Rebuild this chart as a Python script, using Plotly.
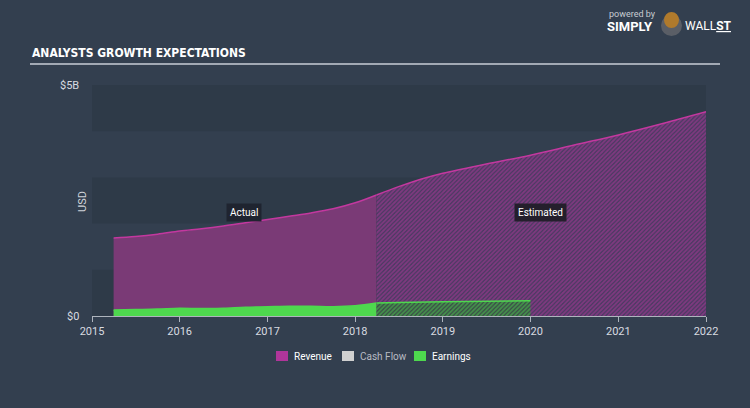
import plotly.graph_objects as go

# ---- data (USD billions) ----
rev_actual_dates = ["2015-04-01", "2015-07-01", "2015-10-01", "2016-01-01", "2016-04-01", "2016-07-01",
                    "2016-10-01", "2017-01-01", "2017-04-01", "2017-07-01", "2017-10-01", "2018-01-01", "2018-03-31"]
rev_actual = [1.69, 1.72, 1.77, 1.84, 1.89, 1.95, 2.02, 2.09, 2.16, 2.23, 2.32, 2.45, 2.62]
rev_est_dates = ["2018-03-31", "2018-07-01", "2018-10-01", "2019-01-01", "2019-07-01", "2020-01-01",
                 "2020-07-01", "2021-01-01", "2021-07-01", "2022-01-01"]
rev_est = [2.62, 2.80, 2.96, 3.09, 3.29, 3.48, 3.70, 3.92, 4.16, 4.42]

earn_actual_dates = rev_actual_dates
earn_actual = [0.13, 0.14, 0.15, 0.17, 0.16, 0.17, 0.19, 0.20, 0.21, 0.21, 0.20, 0.22, 0.28]
earn_est_dates = ["2018-03-31", "2018-07-01", "2019-01-01", "2020-01-01"]
earn_est = [0.28, 0.29, 0.31, 0.33]

x_ticks = ["2015", "2016", "2017", "2018", "2019", "2020", "2021", "2022"]
legend_names = ["Revenue", "Cash Flow", "Earnings"]

BG = "#333f4f"
BAND = "#2e3a48"
REV_FILL = "#7a3a76"
REV_LINE = "#c3389f"
EARN = "#4ed84e"
FONT = "Roboto, 'Open Sans', sans-serif"

fig = go.Figure()

# Revenue
fig.add_trace(go.Scatter(x=rev_actual_dates, y=rev_actual, mode="lines", fill="tozeroy",
                         fillcolor=REV_FILL, line=dict(color=REV_LINE, width=1.5, shape="spline"),
                         showlegend=False, hoverinfo="skip"))
fig.add_trace(go.Scatter(x=rev_est_dates, y=rev_est, mode="lines", fill="tozeroy",
                         fillcolor="rgba(0,0,0,0)",
                         fillpattern=dict(shape="/", fgcolor="#b8389f", bgcolor="#473a60", size=3, solidity=0.6),
                         line=dict(color=REV_LINE, width=1.5, shape="spline"),
                         showlegend=False, hoverinfo="skip"))
# Earnings
fig.add_trace(go.Scatter(x=earn_actual_dates, y=earn_actual, mode="lines", fill="tozeroy",
                         fillcolor=EARN, line=dict(color=EARN, width=1.5, shape="spline"),
                         showlegend=False, hoverinfo="skip"))
fig.add_trace(go.Scatter(x=earn_est_dates, y=earn_est, mode="lines", fill="tozeroy",
                         fillcolor="rgba(0,0,0,0)",
                         fillpattern=dict(shape="/", fgcolor=EARN, bgcolor="#3a4a48", size=3, solidity=0.6),
                         line=dict(color=EARN, width=1.5, shape="spline"),
                         showlegend=False, hoverinfo="skip"))

shapes = []
# horizontal bands
for lo, hi in [(0, 1), (2, 3), (4, 5)]:
    shapes.append(dict(type="rect", xref="x", yref="y", x0="2015-01-01", x1="2022-01-01", y0=lo, y1=hi,
                       fillcolor=BAND, line=dict(width=0), layer="below"))
# title underline
shapes.append(dict(type="line", xref="paper", yref="paper",
                   x0=(30 - 92) / 614, x1=(720 - 92) / 614, y0=(316 - 64) / 231, y1=(316 - 64) / 231,
                   line=dict(color="#c9ced6", width=1.5)))

annotations = [
    dict(text="<b>ANALYSTS GROWTH EXPECTATIONS</b>", xref="paper", yref="paper",
         x=(30 - 92) / 614, y=(316 - 53) / 231, xanchor="left", yanchor="middle", showarrow=False,
         font=dict(family="'DejaVu Sans Condensed', 'Liberation Sans Narrow', sans-serif", size=12,
                   color="#ffffff")),
    dict(text="Actual", xref="x", yref="y", x="2016-09-25", y=(316 - 212) / 46.2, showarrow=False,
         font=dict(family=FONT, size=10, color="#ffffff"), bgcolor="#1f2430", borderpad=3),
    dict(text="Estimated", xref="x", yref="y", x="2020-02-10", y=(316 - 212) / 46.2, showarrow=False,
         font=dict(family=FONT, size=10, color="#ffffff"), bgcolor="#241f2c", borderpad=3),
    dict(text="USD", xref="paper", yref="paper", x=(82 - 92) / 614, y=(316 - 202) / 231, textangle=-90,
         showarrow=False, xanchor="center", yanchor="middle", font=dict(family=FONT, size=11, color="#cfd3d9")),
    dict(text="$5B", xref="paper", yref="y", x=(81 - 92) / 614, y=5, xanchor="right", yanchor="middle",
         showarrow=False, font=dict(family=FONT, size=11, color="#d8dbe0")),
    dict(text="$0", xref="paper", yref="y", x=(81 - 92) / 614, y=0, xanchor="right", yanchor="middle",
         showarrow=False, font=dict(family=FONT, size=11, color="#d8dbe0")),
    # logo text
    dict(text="powered by", xref="paper", yref="paper", x=(607 - 92) / 614, y=(316 - 14) / 231,
         xanchor="left", yanchor="middle", showarrow=False, font=dict(family=FONT, size=9, color="#c8ccd2")),
    dict(text="<b>SIMPLY</b>", xref="paper", yref="paper", x=(605 - 92) / 614, y=(316 - 26) / 231,
         xanchor="left", yanchor="middle", showarrow=False, font=dict(family=FONT, size=13, color="#ffffff")),
    dict(text="WALL<b><u>ST</u></b>", xref="paper", yref="paper", x=(683 - 92) / 614, y=(316 - 26) / 231,
         xanchor="left", yanchor="middle", showarrow=False, font=dict(family=FONT, size=12, color="#ffffff")),
]

# logo icon
shapes.append(dict(type="circle", xref="paper", yref="paper",
                   x0=(661 - 92) / 614, x1=(682 - 92) / 614, y0=(316 - 36) / 231, y1=(316 - 15) / 231,
                   fillcolor="#5a5e66", line=dict(width=0)))
shapes.append(dict(type="circle", xref="paper", yref="paper",
                   x0=(664 - 92) / 614, x1=(679 - 92) / 614, y0=(316 - 28) / 231, y1=(316 - 12) / 231,
                   fillcolor="#b07a2c", line=dict(width=0)))

# manual legend
legend_colors = ["#b0359a", "#d0d0d0", EARN]
legend_text_colors = ["#ffffff", "#b8bcc4", "#ffffff"]
legend_x = [276, 342, 414]
ly = (316 - 356) / 231
for name, col, tcol, lx in zip(legend_names, legend_colors, legend_text_colors, legend_x):
    shapes.append(dict(type="rect", xref="paper", yref="paper",
                       x0=(lx - 92) / 614, x1=(lx + 12 - 92) / 614,
                       y0=ly - 5 / 231, y1=ly + 5 / 231, fillcolor=col, line=dict(width=0)))
    annotations.append(dict(text=name, xref="paper", yref="paper", x=(lx + 16 - 92) / 614, y=ly,
                            xanchor="left", yanchor="middle", showarrow=False,
                            font=dict(family=FONT, size=10, color=tcol)))

fig.update_layout(
    width=750, height=408,
    margin=dict(l=92, r=44, t=85, b=92),
    paper_bgcolor=BG, plot_bgcolor=BG,
    showlegend=False,
    shapes=shapes, annotations=annotations,
    xaxis=dict(type="date", range=["2015-01-01", "2022-01-01"],
               tickvals=[f"{y}-01-01" for y in x_ticks], ticktext=x_ticks,
               showgrid=False, zeroline=False, showline=True, linecolor="#aeb4bd", linewidth=1,
               ticks="outside", ticklen=5, tickcolor="#aeb4bd",
               tickfont=dict(family=FONT, size=11, color="#d8dbe0")),
    yaxis=dict(range=[0, 5], showgrid=False, zeroline=False, showticklabels=False, fixedrange=True),
)

fig.write_html("out.html")
